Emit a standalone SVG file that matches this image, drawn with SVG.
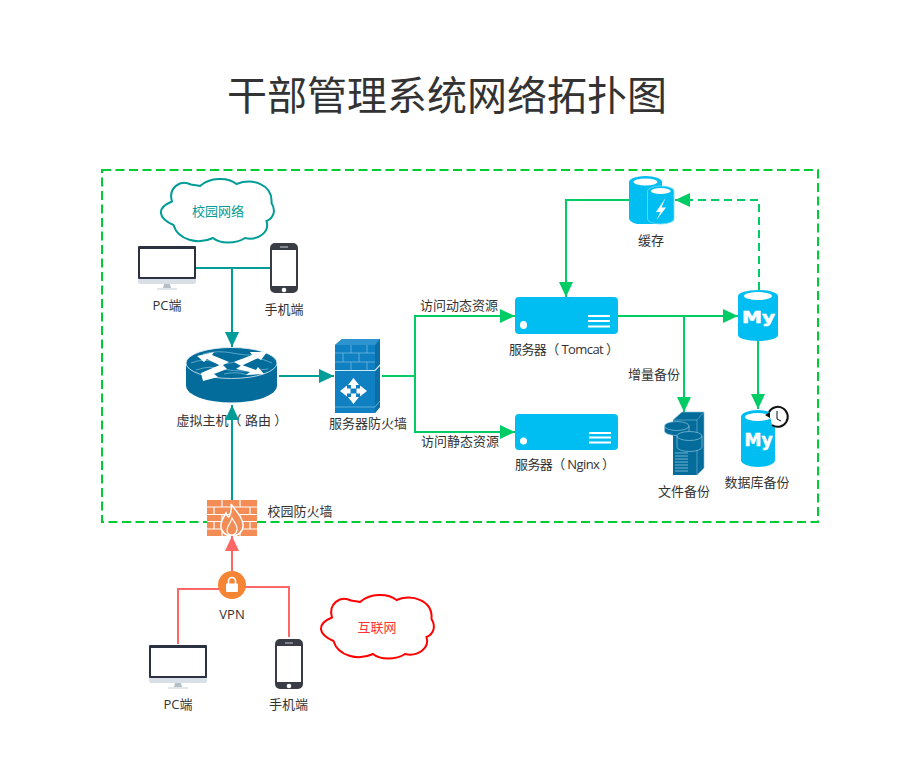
<svg xmlns="http://www.w3.org/2000/svg" width="902" height="764" viewBox="0 0 902 764">
<style>
text{font-family:"Open Sans","Noto Sans CJK SC",sans-serif;font-size:13px;fill:#333;text-anchor:middle}
.line{fill:none;stroke-width:2}
.teal{stroke:#009c97}
.green{stroke:#00cc66}
.red{stroke:#ff6666}
.sky{fill:#00bef2}
.deep{fill:#036c9b}
.my{font-family:"DejaVu Sans",sans-serif;font-weight:700;fill:#fff;stroke:#fff;stroke-width:.6}
</style>
<defs>
<marker id="aT" markerUnits="userSpaceOnUse" markerWidth="16" markerHeight="16" refX="15" refY="8" orient="auto"><path d="M0 1L15 8L0 15Z" fill="#009c97"/></marker>
<marker id="aG" markerUnits="userSpaceOnUse" markerWidth="16" markerHeight="16" refX="15" refY="8" orient="auto"><path d="M0 1L15 8L0 15Z" fill="#00cc66"/></marker>
<marker id="aR" markerUnits="userSpaceOnUse" markerWidth="16" markerHeight="16" refX="15" refY="8" orient="auto"><path d="M0 1L15 8L0 15Z" fill="#ff6666"/></marker>
<symbol id="monitor" width="58" height="44" viewBox="0 0 58 44" overflow="visible">
<rect width="58" height="33" rx="1" fill="#2b3140"/><rect x="2" y="3" width="54" height="28" fill="#fff"/>
<path d="M0 33H58V36Q58 38 56 38H2Q0 38 0 36Z" fill="#d9dfe7"/>
<path d="M26 38H32L33 42H25Z" fill="#b4bfc6"/><rect x="19" y="42.500" width="20" height="1" fill="#c8d0d6"/>
</symbol>
<symbol id="phone" width="28" height="50" viewBox="0 0 28 50" overflow="visible">
<rect width="28" height="50" rx="5" fill="#3a3c45"/><rect x="2" y="7" width="24" height="36" fill="#fff"/>
<rect x="10" y="3.500" width="8" height="1" fill="#c9cbd0"/><circle cx="14" cy="47" r="2.300" fill="#fff"/>
</symbol>
<path id="cloud" d="M12 21.500C8 8 20-1 31 4.500C34 5 37 5 40 6C50-3 68-3 76.500 4C92-2 113 4 111.500 23C116 30 114 38 106.500 41C110 52 98 61 85 58C76 64 60 64 53 58C38 65 18 60 13.500 45C-2 38-4 28 12 21.500Z" fill="#fff" stroke-width="2"/>
</defs>
<rect width="902" height="764" fill="#fff"/>
<text x="447" y="110" style="font-size:40px">干部管理系统网络拓扑图</text>
<rect id="boundary" x="102" y="170" width="716" height="352" fill="none" stroke="#00cc33" stroke-width="2" stroke-dasharray="9 4.500"/>

<g id="cloud-campus"><use href="#cloud" x="160" y="180" stroke="#009c97"/><text x="218" y="216" style="fill:#009c97">校园网络</text></g>
<g id="pc-campus"><use href="#monitor" x="138" y="246"/><text x="167" y="310">PC端</text></g>
<g id="phone-campus"><use href="#phone" x="270" y="243"/><text x="284" y="314">手机端</text></g>

<g id="router">
<path d="M186 363V386A45.500 16.500 0 0 0 277 386V363Z" class="deep"/>
<ellipse cx="231.500" cy="363" rx="45.500" ry="15.500" fill="#036c9b" stroke="#e8f3f8" stroke-width="0.800"/>
<path d="M191 363Q203 358 215 362T240 360T272 363M196 370Q210 365 224 369T268 369M203 354Q218 350 232 353T258 355M224 374Q236 371 248 375" fill="none" stroke="#6fb2d0" stroke-width="0.800"/>
<path d="M197 356L214 352L212 355L229 362L221 366L207 359L204 362Z M201 373L222 364L227 369L214 374L218 377L203 381Z M234 362L252 355L250 352L267 352L261 360L258 358L241 366Z M236 369L242 365L256 370L258 367L264 374L246 375L250 372Z" fill="#fff"/>
<text x="232" y="425">虚拟主机（ 路由 ）</text>
</g>

<g id="server-firewall">
<path d="M335 345L342 339H380V407L375 413H335Z" fill="#0f80c1"/>
<path d="M375 345L380 339V407L375 413Z" fill="#0c6ea6"/>
<path d="M335 345L342 339H380L375 345Z" fill="#2d94cf"/>
<path d="M335 353H375M335 362H375M335 407H375L380 401M351 345V353M367 345V353M343 353V362M359 353V362M351 362V370M367 362V370" fill="none" stroke="#7fbfe3" stroke-width="0.700"/>
<path d="M335 370.500H375L380 365" fill="none" stroke="#cfe6f3" stroke-width="1.200"/>
<path d="M353.500 378L359 385H356V388.500H351V385H348ZM353.500 404L348 397H351V393.500H356V397H359ZM340 391L347 385.500V388.500H350.500V393.500H347V396.500ZM367 391L360 385.500V388.500H356.500V393.500H360V396.500Z" fill="#fff"/>
<text x="368" y="428">服务器防火墙</text>
</g>

<g id="server-tomcat">
<rect x="515" y="297" width="103" height="37" rx="4" class="sky"/>
<ellipse cx="523.500" cy="325" rx="3.500" ry="4" fill="#fff"/>
<path d="M588 316H610M588 321H610M588 326.500H610" stroke="#fff" stroke-width="2" fill="none"/>
<text x="564" y="354" textLength="110" lengthAdjust="spacing">服务器（ Tomcat ）</text>
</g>
<g id="server-nginx">
<rect x="515" y="414" width="103" height="36" rx="4" class="sky"/>
<circle cx="523.500" cy="441" r="3.500" fill="#fff"/>
<path d="M589 433H611M589 437.500H611M589 442.500H611" stroke="#fff" stroke-width="2" fill="none"/>
<text x="565" y="469" textLength="100" lengthAdjust="spacing">服务器（ Nginx ）</text>
</g>

<g id="cache">
<path d="M629 182A16.500 6 0 0 1 662 182V224H637Q629 222 629 218Z" class="sky"/>
<ellipse cx="645.500" cy="182" rx="12" ry="3.500" fill="#fff"/>
<path d="M647.500 191A13.250 5 0 0 1 674 191V219A13.250 5 0 0 1 647.500 219Z" class="sky" stroke="#6fdcf8" stroke-width="0.800"/>
<ellipse cx="660.750" cy="191" rx="10" ry="3" fill="#fff"/>
<path d="M665.500 198L656 212H660.500L656.500 220L666 207.500H661.500Z" fill="#fff"/>
<text x="651" y="245">缓存</text>
</g>

<g id="mysql">
<path d="M738 296A20 6 0 0 1 778 296V335A20 6 0 0 1 738 335Z" class="sky"/>
<ellipse cx="758" cy="296" rx="14" ry="4" fill="#fff"/>
<text class="my" x="758.500" y="323" style="font-size:16px" textLength="33" lengthAdjust="spacingAndGlyphs">My</text>
</g>

<g id="db-backup">
<path d="M741 417A17 7 0 0 1 775 417V460A17 7 0 0 1 741 460Z" class="sky"/>
<ellipse cx="758" cy="417" rx="13" ry="4" fill="#fff"/>
<text class="my" x="758.500" y="446" style="font-size:18px" textLength="28" lengthAdjust="spacingAndGlyphs">My</text>
<path d="M769 412A10 10 0 1 1 772 425" fill="#fff" stroke="#111" stroke-width="2"/>
<path d="M765 415L770 418L770 412Z" fill="#111"/>
<path d="M777 411V419L781 421" fill="none" stroke="#111" stroke-width="1"/>
<text x="757" y="487">数据库备份</text>
</g>

<g id="file-backup">
<path d="M673 420L682 412H704V468L697 475H673Z" class="deep"/>
<path d="M673 420L682 412H704L697 420V475M697 420H673M704 412V468L697 475" fill="none" stroke="#7fbcd8" stroke-width="0.600"/>
<rect x="675" y="452" width="13" height="20" fill="#036c9b"/>
<path d="M675 453H688M675 456H688M675 459H688M675 462H688M675 465H688M675 468H688M675 471H688" stroke="#7fbcd8" stroke-width="0.900"/>
<path d="M664.500 426A12.250 4.500 0 0 1 689 426V431A12.250 4.500 0 0 1 664.500 431Z" class="deep" stroke="#a5d0e3" stroke-width="0.600"/>
<path d="M664.500 426A12.250 4.500 0 0 0 689 426" fill="none" stroke="#a5d0e3" stroke-width="0.600"/>
<path d="M677 436A12.500 4.500 0 0 1 702 436V447A12.500 4.500 0 0 1 677 447Z" class="deep" stroke="#a5d0e3" stroke-width="0.600"/>
<path d="M677 436A12.500 4.500 0 0 0 702 436" fill="none" stroke="#a5d0e3" stroke-width="0.600"/>
<text x="684" y="496">文件备份</text>
</g>

<g id="campus-firewall">
<rect x="207" y="500" width="50" height="36" fill="#f48c56"/>
<path d="M207 507H257M207 514.500H257M207 521.500H257M207 529H257M222 500V507M240 500V507M214 507V514.500M232 507V514.500M250 507V514.500M222 514.500V521.500M240 514.500V521.500M214 521.500V529M250 521.500V529M222 529V536M240 529V536" stroke="#fff" stroke-width="1.200" fill="none"/>
<path d="M231 504C235 510 242 516 243 524C244 531 238 536 232 536C225 536 220 531 221 524C222 519 224 516 226 513C227 516 228 517 229 517C231 513 232 509 231 504Z" fill="#f48c56" stroke="#fff" stroke-width="1.500"/>
<path d="M232 518C234 522 238 526 237 530C236 534 234 535 232 535C230 535 227 534 227 530C227 526 231 523 232 518Z" fill="#f48c56" stroke="#fff" stroke-width="1.200"/>
<text x="300" y="516">校园防火墙</text>
</g>

<g id="vpn">
<circle cx="232" cy="585" r="14" fill="#f58534"/>
<rect x="226" y="583.500" width="12" height="8.500" rx="1" fill="#fff"/>
<path d="M228.500 584V581A3.500 3.500 0 0 1 235.500 581V584" fill="none" stroke="#fff" stroke-width="1.600"/>
<text x="232" y="619">VPN</text>
</g>

<g id="cloud-internet"><use href="#cloud" x="320" y="596" stroke="#ff0000"/><text x="377" y="632" style="fill:#ff3333">互联网</text></g>
<g id="pc-internet"><use href="#monitor" x="149" y="645"/><text x="178" y="709">PC端</text></g>
<g id="phone-internet"><use href="#phone" x="275" y="639"/><text x="288.500" y="709">手机端</text></g>

<g id="connectors">
<path class="line teal" d="M196 268H270"/>
<path class="line teal" d="M232 268V347" marker-end="url(#aT)"/>
<path class="line teal" d="M279 376H334" marker-end="url(#aT)"/>
<path class="line teal" d="M232 500V405" marker-end="url(#aT)"/>
<path class="line green" d="M382 376H415V316H515" marker-end="url(#aG)"/>
<path class="line green" d="M415 376V432H515" marker-end="url(#aG)"/>
<path class="line green" d="M629 200H566V297" marker-end="url(#aG)"/>
<path class="line green" d="M759 290V200H675" stroke-dasharray="8 5" marker-end="url(#aG)"/>
<path class="line green" d="M618 316H738" marker-end="url(#aG)"/>
<path class="line green" d="M684 316V412" marker-end="url(#aG)"/>
<path class="line green" d="M758 341V409" marker-end="url(#aG)"/>
<path class="line red" d="M232 571V536" marker-end="url(#aR)"/>
<path class="line red" d="M178 644V589H219"/>
<path class="line red" d="M289 637V587H245"/>
</g>
<text x="459" y="310">访问动态资源</text>
<text x="460" y="446">访问静态资源</text>
<text x="654" y="379">增量备份</text>
</svg>
